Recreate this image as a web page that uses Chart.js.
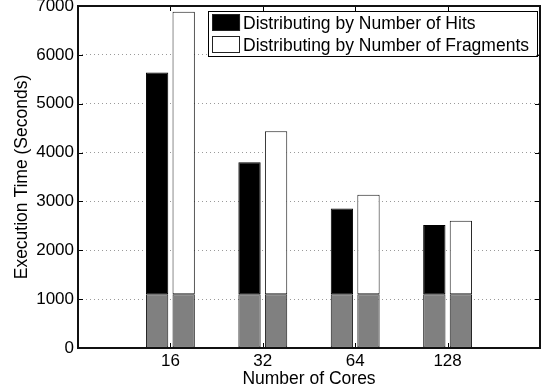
<!DOCTYPE html>
<html>
<head>
<meta charset="utf-8">
<script src="https://cdn.jsdelivr.net/npm/chart.js@4/dist/chart.umd.min.js"></script>
<style>
  html, body { margin: 0; padding: 0; background: #fff; }
  canvas { display: block; }
</style>
</head>
<body>
<canvas id="chart" width="542" height="391"></canvas>
<script>
// Number of cores on the x axis
const cores = ['16', '32', '64', '128'];

// Common lower segment (seconds) shared by both strategies
const baseTime = [1100, 1100, 1100, 1100];

// Upper segments (seconds) stacked on the common part
const hitsUpper = [4540, 2700, 1755, 1415];   // total 5640, 3800, 2855, 2515
const fragUpper = [5780, 3335, 2035, 1505];   // total 6880, 4435, 3135, 2605

// Y axis ticks
const yTicks = [0, 1000, 2000, 3000, 4000, 5000, 6000, 7000];

const seriesNames = ['Distributing by Number of Hits', 'Distributing by Number of Fragments'];

// The x range leaves an empty slot on each side of the four groups
const labels = ['', ...cores, ''];
const pad = arr => [null, ...arr, null];

const FONT = 'Liberation Sans, Arial, Helvetica, sans-serif';
Chart.defaults.font.family = FONT;
Chart.defaults.color = '#000';

const barCommon = {
  borderWidth: 1,
  borderSkipped: false,
  categoryPercentage: 0.575,
  barPercentage: 0.84
};

// Box around the plot with inward tick marks
const framePlugin = {
  id: 'frame',
  afterDatasetsDraw(chart) {
    const { ctx, chartArea: a, scales: { x, y } } = chart;
    ctx.save();
    ctx.strokeStyle = '#000';
    ctx.lineWidth = 1;
    ctx.beginPath();
    yTicks.forEach(v => {
      const py = Math.round(y.getPixelForValue(v)) + 0.5;
      ctx.moveTo(a.left, py); ctx.lineTo(a.left + 5, py);
      ctx.moveTo(a.right, py); ctx.lineTo(a.right - 5, py);
    });
    cores.forEach((c, i) => {
      const px = Math.round(x.getPixelForValue(i + 1)) + 0.5;
      ctx.moveTo(px, a.top); ctx.lineTo(px, a.top + 5);
      ctx.moveTo(px, a.bottom); ctx.lineTo(px, a.bottom - 5);
    });
    ctx.stroke();
    ctx.lineWidth = 2;
    ctx.strokeStyle = '#111';
    ctx.strokeRect(a.left, a.top, a.right - a.left, a.bottom - a.top);
    ctx.restore();
  }
};

// Legend box in the upper right corner of the plot
const legendPlugin = {
  id: 'boxLegend',
  afterDraw(chart) {
    const { ctx, chartArea: a } = chart;
    const items = chart.data.datasets.filter(d => d.inLegend);
    const right = a.right - 3.5, top = a.top + 5, height = 45;
    ctx.save();
    ctx.font = '17.5px ' + FONT;
    const textW = Math.max(...items.map(d => ctx.measureText(d.label).width));
    const left = right - (textW + 4 + 28 + 5 + 6);
    ctx.fillStyle = '#fff';
    ctx.fillRect(left, top, right - left, height);
    ctx.strokeStyle = '#000';
    ctx.lineWidth = 1;
    ctx.strokeRect(Math.round(left) + 0.5, Math.round(top) + 0.5, Math.round(right - left), height);
    items.forEach((d, i) => {
      const sy = top + 3 + i * 22.3;
      const sx = left + 4.5;
      ctx.fillStyle = d.backgroundColor;
      ctx.fillRect(sx, sy, 28, 17);
      ctx.strokeStyle = '#222';
      ctx.strokeRect(Math.round(sx) + 0.5, Math.round(sy) + 0.5, 27, 16);
      ctx.fillStyle = '#000';
      ctx.textBaseline = 'alphabetic';
      ctx.textAlign = 'left';
      ctx.fillText(d.label, sx + 31, sy + 14.5);
    });
    ctx.restore();
  }
};

new Chart(document.getElementById('chart'), {
  type: 'bar',
  data: {
    labels: labels,
    datasets: [
      { ...barCommon, label: 'base', stack: 'hits', data: pad(baseTime),
        backgroundColor: '#808080', borderColor: '#1a1a1a' },
      { ...barCommon, label: seriesNames[0], stack: 'hits', data: pad(hitsUpper), inLegend: true,
        backgroundColor: '#000000', borderColor: '#000000' },
      { ...barCommon, label: 'base', stack: 'frag', data: pad(baseTime),
        backgroundColor: '#808080', borderColor: '#1a1a1a' },
      { ...barCommon, label: seriesNames[1], stack: 'frag', data: pad(fragUpper), inLegend: true,
        backgroundColor: '#ffffff', borderColor: '#1a1a1a' }
    ]
  },
  options: {
    responsive: false,
    animation: false,
    layout: { padding: { top: 6, right: 2, left: 0, bottom: 0 } },
    plugins: {
      legend: { display: false },
      tooltip: { enabled: false }
    },
    scales: {
      x: {
        stacked: true,
        offset: false,
        grid: { display: false, drawTicks: false },
        border: { display: false },
        ticks: { font: { size: 17 }, padding: 3, maxRotation: 0, autoSkip: false },
        title: { display: true, text: 'Number of Cores', font: { size: 17.5 },
                 padding: { top: 0, bottom: 1 } },
        afterFit(s) { s.height = 43; s.paddingLeft = 0; s.paddingRight = 0; }
      },
      y: {
        stacked: true,
        min: 0,
        max: 7000,
        afterBuildTicks(s) { s.ticks = yTicks.map(v => ({ value: v })); },
        grid: {
          drawTicks: false,
          color: c => (c.tick && (c.tick.value === 0 || c.tick.value === 7000)) ? 'rgba(0,0,0,0)' : '#9a9a9a',
          lineWidth: 1
        },
        border: { display: false, dash: [1, 3] },
        ticks: { font: { size: 17 }, padding: 4, callback: v => String(v) },
        title: { display: true, text: 'Execution Time (Seconds)', font: { size: 17.5 },
                 padding: { top: 12, bottom: 0 } },
        afterFit(s) { s.width = 78; s.paddingTop = 0; s.paddingBottom = 0; }
      }
    }
  },
  plugins: [framePlugin, legendPlugin]
});
</script>
</body>
</html>
